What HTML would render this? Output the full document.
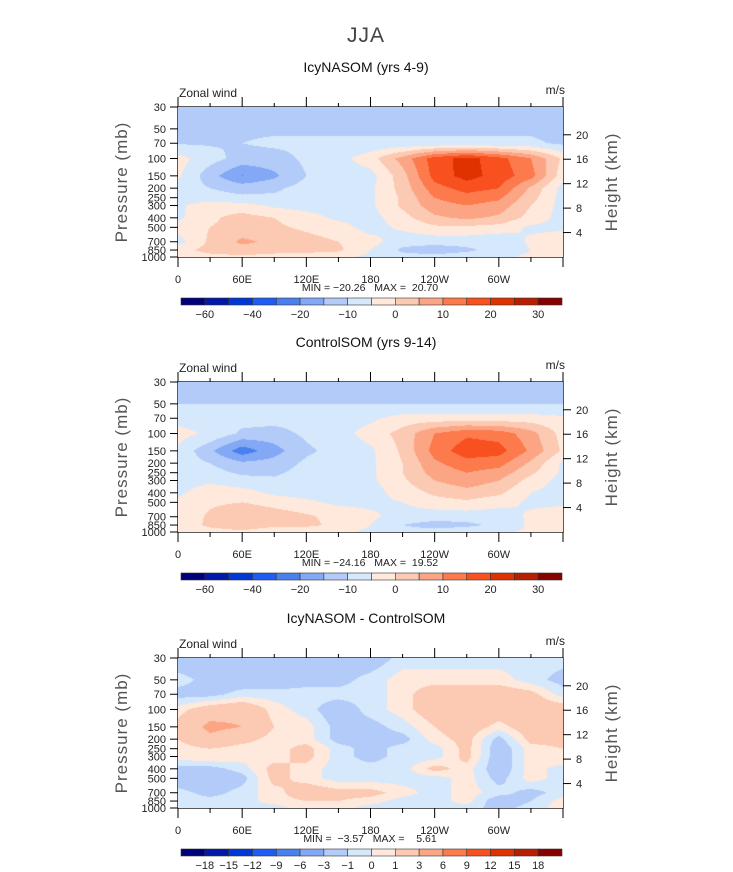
<!DOCTYPE html>
<html><head><meta charset="utf-8"><style>
body{margin:0;background:#fff;width:733px;height:872px;overflow:hidden;font-family:"Liberation Sans",sans-serif;}
svg{position:absolute;left:0;top:0}
canvas{position:absolute}
</style></head><body>
<div id="root"></div>
<script>
const lons=[0,30,60,90,120,150,180,210,240,270,300,330,360];
const levels=[30,50,70,100,150,200,250,300,400,500,700,850,1000];
const icyField=[
[-12,-12,-12,-12,-12,-12,-12,-12,-12,-12,-12,-12,-12],
[-11,-11,-11,-11,-11,-11,-11,-11,-11,-11,-11,-11,-12],
[-10.5,-10.5,-10,-9,-9,-9,-9,-9,-9,-9,-9,-9,-11],
[-3,-8,-12,-12,-9,-7,-2,7,17.5,22,17,10,-1],
[-4,-13,-20.3,-16,-10,-8,-7,3,17,22,18,12,-3],
[-7,-10,-12,-11,-8,-7,-6,2,13,17,15,4,-7],
[-7,-8,-9,-9,-8,-7,-6,1,10,13,11,2,-7],
[-6,-2,-3,-6,-7,-7,-6,1,8,10,8,0,-7],
[-6,-1,2,0,-3,-6,-7,-2,4,6,4,-2,-7],
[-3,0,2,1,-1,-3,-7,-4,-1,-1,-2,-6,-6],
[-7,1,6,4,2,0,-3,-8,-8,-8,-9,-4,-2],
[-2,2,3,2,2,1,-5,-11,-13,-11,-8,-5,-3],
[-4,-2,-1,-2,-3,-4,-6,-8,-8,-7,-6,-4,-3]];
const ctlField=[
[-12,-12,-12,-12,-12,-12,-12,-12,-12,-12,-12,-12,-12],
[-10,-10,-10,-10,-10,-10,-10,-10,-10,-10,-10,-10,-10],
[-7,-8,-8,-8,-8,-7,-6,-3,-3,-3,-3,-3,-4],
[-3,-6,-11,-12,-9,-7,-3,2,10,14,13,7,-2],
[-6,-14,-23,-17,-11,-8,-6,1,12,18,17,9,-1],
[-7,-10,-14,-13,-9,-7,-6,0,9,13,12,4,-6],
[-7,-8,-11,-11,-8,-7,-6,0,7,10,8,1,-6],
[-7,-6,-8,-9,-7,-7,-6,-1,5,8,5,-2,-7],
[-6,-2,-3,-6,-7,-7,-7,-3,1,3,1,-5,-7],
[-4,-1,0,-2,-4,-6,-6,-5,-2,-1,-3,-6,-6],
[-4,1,5,3,1,-2,-4,-7,-8,-8,-8,-4,-2],
[-3,1,3,1,1,-1,-5,-10,-12,-11,-9,-4,-3],
[-4,-2,-1,-3,-3,-4,-6,-8,-8,-7,-6,-4,-3]];
const diffField=[
[-2,-2,-2,-2,-2,-2,-2,-0.5,-0.5,-0.5,-0.5,-0.5,-0.5],
[-0.5,-1.5,-2,-2,-1.5,-1.5,-0.5,0.5,0.5,0.5,0.5,-0.5,-1.5],
[-1.5,-1.5,-0.5,-0.5,-0.5,-0.5,-0.5,0.5,2,2,2,1.5,-0.5],
[0.5,2,2.5,0.5,-0.5,-2,-0.5,0.5,2,2.5,2,2,2],
[1.5,3.5,3,1,0.5,-1.5,-1.5,-0.5,1,2,0.5,2,2],
[1,2.5,1.5,0.5,0.5,-1.5,-1.5,-1.5,0.5,1.5,-1.5,1.5,1.5],
[0.5,1,0.5,0.5,1.5,-0.5,-1.5,-0.5,-0.5,1.5,-2,0.5,1],
[0.5,1,0.5,0.5,1.5,-0.5,-1.5,-0.5,-0.5,1.5,-2,0.5,1],
[-1.5,-1.5,-0.5,1.5,0.5,-0.5,-0.5,-0.5,1.5,0.5,-2,0.5,-0.5],
[-2,-2.5,-1.5,1.5,0.5,-0.5,-0.5,-0.5,-0.5,0.5,-1.5,0.5,-0.5],
[-0.5,-1.5,-0.5,0.5,2,1.5,1.5,0.5,-0.5,0.5,-0.5,-1.5,-0.5],
[-0.5,-0.5,-0.5,0.5,1,1,0.5,-0.5,-0.5,0.5,-2,-1,0.5],
[-0.5,-0.5,-0.5,-0.5,0.5,0.5,-0.5,-0.5,-0.5,-0.5,-1.5,-0.5,0.5]];
const windBounds=[-60,-50,-40,-30,-20,-15,-10,-5,0,5,10,15,20,25,30];
const windLabels=["-60","","-40","","-20","","-10","","0","","10","","20","","30"];
const diffBounds=[-18,-15,-12,-9,-6,-3,-1,0,1,3,6,9,12,15,18];
const diffLabels=["−18","−15","−12","−9","−6","−3","−1","0","1","3","6","9","12","15","18"];
const colors=["#00007a","#0019a8","#0038d8","#1f5cf6","#4a80ee","#82a8f6","#b2cbf8","#d6e8fb","#fee9dc","#fcc9b2","#fca584","#fc7a4c","#f8501e","#e03200","#b81e00","#880000"];
const xTickLons=[0,60,120,180,240,300];
const xTickLabels=["0","60E","120E","180","120W","60W"];
const presTicks=[30,50,70,100,150,200,250,300,400,500,700,850,1000];
const heightTicks=[4,8,12,16,20];
const panels=[
 {title:"IcyNASOM (yrs 4-9)",field:icyField,bounds:windBounds,labels:windLabels,top:107,minmax:"MIN = −20.26   MAX =  20.70"},
 {title:"ControlSOM (yrs 9-14)",field:ctlField,bounds:windBounds,labels:windLabels,top:382,minmax:"MIN = −24.16   MAX =  19.52"},
 {title:"IcyNASOM - ControlSOM",field:diffField,bounds:diffBounds,labels:diffLabels,top:658,minmax:"MIN =  −3.57   MAX =    5.61"}];
const X0=178,X1=563,H=150;
const lp0=Math.log10(30),lp1=Math.log10(1000);
const xOf=l=>X0+(l/360)*(X1-X0);
const yOf=(p,top)=>top+(Math.log10(p)-lp0)/(lp1-lp0)*H;
const NS="http://www.w3.org/2000/svg";
const root=document.getElementById('root');
const svg=document.createElementNS(NS,'svg');
svg.setAttribute('width',733);svg.setAttribute('height',872);


root.appendChild(svg);
function el(tag,attrs,parent,text){const e=document.createElementNS(NS,tag);for(const k in attrs)e.setAttribute(k,attrs[k]);if(text!==undefined)e.textContent=text;(parent||svg).appendChild(e);return e;}
function interp(field,lon,lp){
 let i=Math.min(lons.length-2,Math.floor(lon/30));let fx=(lon-lons[i])/30;
 const lls=levels.map(Math.log10);let j=0;while(j<levels.length-2&&lp>lls[j+1])j++;
 let fy=(lp-lls[j])/(lls[j+1]-lls[j]);fy=Math.max(0,Math.min(1,fy));
 const a=field[j][i],b=field[j][i+1],c=field[j+1][i],d=field[j+1][i+1];
 return a*(1-fx)*(1-fy)+b*fx*(1-fy)+c*(1-fx)*fy+d*fx*fy;}
function binColor(v,bounds){let k=0;while(k<bounds.length&&v>=bounds[k])k++;return colors[k];}
el('text',{x:366,y:42,'text-anchor':'middle','font-size':'21','font-weight':'100',fill:'#444','style':'letter-spacing:1px'},svg,'JJA');
panels.forEach((P,pi)=>{
 const g=el('g',{});
 const top=P.top;
 el('text',{x:366,y:top-35,'text-anchor':'middle','font-size':'14',fill:'#111',},g,P.title);
 el('text',{x:179,y:top-10,'font-size':'12',fill:'#222',},g,'Zonal wind');
 el('text',{x:565,y:top-13,'text-anchor':'end','font-size':'12',fill:'#222',},g,'m/s');
 const cv=document.createElement('canvas');
 cv.width=X1-X0;cv.height=H;cv.style.left=X0+'px';cv.style.top=top+'px';
 
 
 root.appendChild(cv);
 const ctx=cv.getContext('2d');
 for(let py=0;py<H;py++){const lp=lp0+(py+0.5)/H*(lp1-lp0);
  for(let px=0;px<cv.width;px++){const lon=(px+0.5)/cv.width*360;
   ctx.fillStyle=binColor(interp(P.field,lon,lp),P.bounds);ctx.fillRect(px,py,1,1);}}
 [[10,22,3],[22,40,4],[28,35,5],[95,105,1.5],[110,128,1.5],[280,290,4],[288,305,2]].forEach(t=>{
  el('rect',{x:xOf(t[0]),y:top+H-t[2],width:xOf(t[1])-xOf(t[0]),height:t[2],fill:'#000',},g);});
 el('rect',{x:X0,y:top,width:X1-X0,height:H,fill:'none',stroke:'#000','stroke-width':1.3,},g);
 for(let l=0;l<=360;l+=30){const major=l%60===0;const x=xOf(l);
  el('line',{x1:x,x2:x,y1:top+H,y2:top+H+(major?10:5),stroke:'#000',},g);
  el('line',{x1:x,x2:x,y1:top,y2:top-(major?10:4),stroke:'#000',},g);}
 xTickLons.forEach((l,k)=>el('text',{x:xOf(l),y:top+H+26,'text-anchor':'middle','font-size':'11',fill:'#222',},g,xTickLabels[k]));
 el('text',{x:370,y:top+H+34,'text-anchor':'middle','font-size':'10.5',fill:'#222','style':'white-space:pre'},g,P.minmax);
 presTicks.forEach(p=>{const y=yOf(p,top);
  el('line',{x1:X0-8,x2:X0,y1:y,y2:y,stroke:'#000',},g);
  el('text',{x:X0-12,y:y+4,'text-anchor':'end','font-size':'11',fill:'#222',},g,String(p));});
 heightTicks.forEach(h=>{const y=yOf(1000*Math.exp(-h/7),top);
  el('line',{x1:X1,x2:X1+8,y1:y,y2:y,stroke:'#000',},g);
  el('text',{x:X1+13,y:y+4,'font-size':'11',fill:'#222',},g,String(h));});
 el('text',{x:0,y:0,transform:`translate(127,${top+75}) rotate(-90)`,'text-anchor':'middle','font-size':'17',fill:'#555','font-weight':'300','style':'letter-spacing:1px'},g,'Pressure (mb)');
 el('text',{x:0,y:0,transform:`translate(617,${top+75}) rotate(-90)`,'text-anchor':'middle','font-size':'17',fill:'#555','style':'letter-spacing:1px'},g,'Height (km)');
 const cbTop=top+191,cbX=181,cbW=381,bw=cbW/16;
 const cb=el('g',{},g);
 colors.forEach((c,k)=>el('rect',{x:cbX+k*bw,y:cbTop,width:bw,height:7,fill:c,stroke:'#333','stroke-width':0.6,},cb));
 P.labels.forEach((t,k)=>{if(!t)return;el('text',{x:cbX+(k+1)*bw,y:cbTop+20,'text-anchor':'middle','font-size':'11',fill:'#222',},cb,t.replace('-','−'));});
});
</script>
</body></html>
